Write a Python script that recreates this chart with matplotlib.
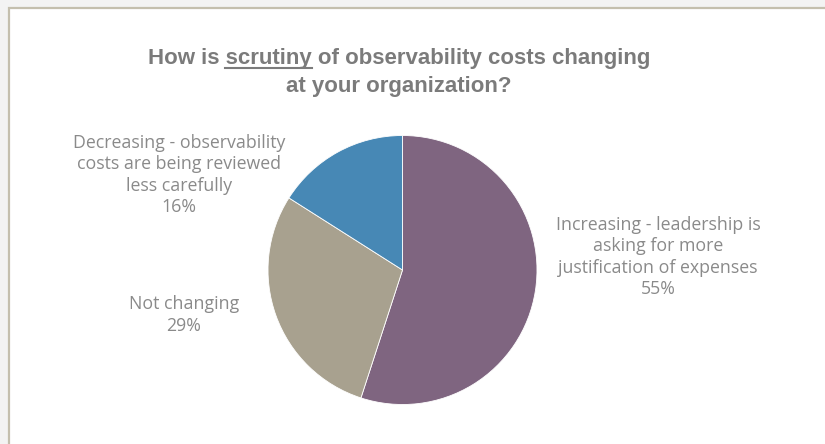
import matplotlib.pyplot as plt
from matplotlib.patches import Rectangle
from matplotlib.lines import Line2D

# survey answers
labels = [
    "Increasing - leadership is\nasking for more\njustification of expenses",
    "Not changing",
    "Decreasing - observability\ncosts are being reviewed\nless carefully",
]
shares = [55, 29, 16]
colors = ["#7f6580", "#a8a18f", "#4788b5"]

title_line1 = "How is scrutiny of observability costs changing"
title_line2 = "at your organization?"
underlined = "scrutiny"

W, H = 825, 444
fig = plt.figure(figsize=(W / 100, H / 100), dpi=100)
fig.patch.set_facecolor("#f3f3f3")

# white chart area with thin frame
frame = Rectangle((8.5 / W, -0.05), 1.1, 1 - 8.5 / H + 0.05,
                  transform=fig.transFigure, facecolor="white",
                  edgecolor="#c4bfae", linewidth=1.6, zorder=-1)
fig.patches.append(frame)

# pie axes: centre (402.5, 270) px, radius 134.5 px
r = 134.5
cx, cy = 402.5, 270
ax = fig.add_axes([(cx - r) / W, (H - cy - r) / H, 2 * r / W, 2 * r / H])
ax.set_zorder(2)
ax.pie(shares, colors=colors, startangle=90, counterclock=False,
       wedgeprops=dict(linewidth=0.6, edgecolor="white"))
ax.set_xlim(-1, 1)
ax.set_ylim(-1, 1)
ax.set_aspect("equal")
ax.axis("off")

# slice labels
label_font = dict(family="Open Sans", fontsize=12.8, color="#8a8a8a",
                  ha="center", va="center", linespacing=1.24, zorder=3)
label_pos = [(658, 257), (184, 315), (179, 175)]
for lab, val, (x, y) in zip(labels, shares, label_pos):
    fig.text(x / W, 1 - y / H, f"{lab}\n{val}%", **label_font)

# title, with one word underlined
title_font = dict(family="Liberation Sans", fontsize=16, fontweight="bold",
                  color="#7b7b7b", ha="center", va="baseline", zorder=3)
tx = 399 / W
t1 = fig.text(tx, 1 - 64 / H, title_line1, **title_font)
fig.text(tx, 1 - 92 / H, title_line2, **title_font)

fig.canvas.draw()
renderer = fig.canvas.get_renderer()
full = t1.get_window_extent(renderer)
head = title_line1[:title_line1.index(underlined) + len(underlined)]
probe = fig.text(0, 0, head, **{**title_font, "ha": "left"})
w_head = probe.get_window_extent(renderer).width
probe.set_text(underlined)
w_word = probe.get_window_extent(renderer).width
probe.remove()
x1 = full.x0 + w_head
x0 = x1 - w_word
y_line = H - 68
fig.add_artist(Line2D([x0 / W, x1 / W], [y_line / H, y_line / H],
                      transform=fig.transFigure, color="#7b7b7b",
                      linewidth=1.5, zorder=3))

fig.savefig("out.png", dpi=100, facecolor=fig.get_facecolor())
